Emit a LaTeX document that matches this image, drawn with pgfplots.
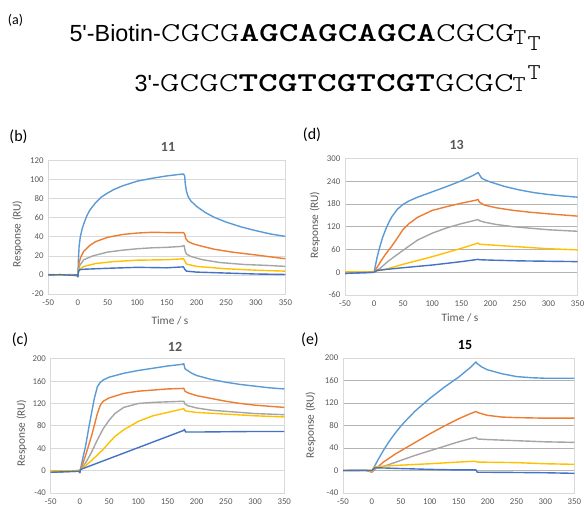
\documentclass[border=0pt]{standalone}
\usepackage{pgfplots}
\pgfplotsset{compat=1.18}
\usepackage{fontspec}
\setmainfont{Carlito}
\newfontfamily\arial{Liberation Sans}
\newfontfamily\seq{lmmonolt10-regular.otf}[BoldFont=lmmonolt10-bold.otf, FakeStretch=1.37]
\newfontfamily\seqT{lmmonolt10-regular.otf}[FakeStretch=1.1]

\definecolor{c1}{HTML}{5B9BD5}
\definecolor{c2}{HTML}{ED7D31}
\definecolor{c3}{HTML}{A5A5A5}
\definecolor{c4}{HTML}{FFC000}
\definecolor{c5}{HTML}{4472C4}
\definecolor{txt}{HTML}{595959}
\definecolor{gridl}{HTML}{D9D9D9}
\definecolor{gridd}{HTML}{B4B4B4}

\pgfplotsset{
  spr/.style={
    scale only axis, anchor=south west,
    xmin=-50, xmax=350, xtick={-50,0,...,350},
    axis line style={gridl, line width=0.5pt},
    tick style={draw=none},
    ymajorgrids, major grid style={gridl, line width=0.6pt},
    ticklabel style={font=\fontsize{6.6}{7}\selectfont, text=txt},
    /pgf/number format/assume math mode=true,
    xticklabel style={yshift=-1pt},
    every axis plot/.append style={line width=1.05pt, line join=round, no markers},
  },
}

\begin{document}
\begin{tikzpicture}
\path[use as bounding box] (0,0) rectangle (438pt,381pt);

% (a) hairpin sequence
\node[font=\fontsize{10.5}{12}\selectfont] at (11.6pt,366pt) {(a)};
\node[anchor=base east, inner sep=0] at (386.25pt,349.5pt)
  {\arial\fontsize{17.5}{20}\selectfont 5'-Biotin-\seq\fontsize{20.5}{24}\selectfont CGCG\textbf{AGCAGCAGCA}CGCG};
\node[anchor=base east, inner sep=0] at (385.5pt,312.4pt)
  {\arial\fontsize{17.5}{20}\selectfont 3'-\seq\fontsize{20.5}{24}\selectfont GCGC\textbf{TCGTCGTCGT}GCGC};
\node[anchor=base west, inner sep=0, font=\seqT\fontsize{17}{20}\selectfont] at (384.75pt,347.25pt) {T};
\node[anchor=base west, inner sep=0, font=\seqT\fontsize{17}{20}\selectfont] at (395.6pt,342.75pt) {T};
\node[anchor=base west, inner sep=0, font=\seqT\fontsize{17}{20}\selectfont] at (384.3pt,312.4pt) {T};
\node[anchor=base west, inner sep=0, font=\seqT\fontsize{17}{20}\selectfont] at (395.6pt,321pt) {T};

% (b) 11
\begin{axis}[spr, at={(36.2pt,160.5pt)}, width=177.9pt, height=100pt,
  ymin=-20, ymax=120, ytick={-20,0,...,120}]
\addplot[c1] coordinates {(-50,0)(-40,-0.5)(-30,0.3)(-20,-0.4)(-10,0.2)(-2,0)(0,-1.5)(1,18)(2,30)(4,40)(7,48)(10,54)(15,62)(20,68)(30,76)(40,82)(50,86)(60,89.5)(75,93.5)(100,98.5)(125,101.5)(150,104)(170,105.5)(178,106)(180,104)(181,96)(183,88)(186,82)(190,78)(200,72)(215,65.5)(230,60.5)(250,55.5)(275,50.5)(300,46.5)(325,43)(350,40.5)};
\addplot[c2] coordinates {(-50,0.5)(-30,0)(-10,0.5)(0,-1)(1,8)(2,13)(5,19)(10,25)(20,31)(30,35)(50,39.5)(75,42.5)(100,44)(125,44.8)(150,44.5)(178,44.5)(180,43)(182,38)(186,35)(195,32.5)(210,30)(230,27)(260,24)(300,21)(325,19)(350,17)};
\addplot[c3] coordinates {(-50,0)(-30,0.3)(-10,-0.2)(0,-1)(1,5)(3,10)(10,16)(25,20)(50,24)(75,26)(100,27.5)(125,28.5)(150,29)(175,30)(179,31)(181,25)(183,22)(190,19.5)(210,16)(240,13)(280,11)(320,10)(350,9)};
\addplot[c4] coordinates {(-50,0)(-30,-0.3)(-10,0.2)(0,-1)(1,3)(3,6)(10,9)(30,12)(60,14)(100,15.5)(150,16)(178,17)(180,15)(183,11.5)(200,9)(250,6.5)(300,5)(350,4)};
\addplot[c5] coordinates {(-50,0)(-30,0.3)(-10,-0.3)(-1,0)(0,-2)(1,4)(3,5.5)(10,6)(50,7)(100,8)(150,7.5)(178,8.5)(180,6)(183,4)(200,3)(250,2)(300,1)(350,0.5)};
\end{axis}

% (d) 13
\begin{axis}[spr, at={(258.75pt,159.75pt)}, width=174.4pt, height=102.4pt,
  ymin=-60, ymax=300, ytick={-60,0,...,300}, major grid style={gridd, line width=0.6pt}]
\addplot[c1] coordinates {(-50,-3)(0,0)(5,38)(10,68)(15,93)(20,113)(25,130)(30,145)(40,166)(50,179)(60,188)(75,198)(100,212)(125,226)(150,241)(170,255)(179,263)(181,258)(185,248)(190,244)(200,238)(225,226)(250,217)(275,210)(300,205)(325,201)(350,198)};
\addplot[c2] coordinates {(-50,-1)(0,0)(10,25)(20,48)(30,68)(40,90)(50,113)(60,128)(75,145)(100,163)(125,173)(150,182)(175,190)(179,192)(181,185)(190,177)(210,170)(240,163)(270,158)(300,154)(325,151)(350,148)};
\addplot[c3] coordinates {(-50,-1)(0,0)(10,10)(25,30)(50,58)(75,85)(100,103)(125,117)(150,128)(179,139)(181,136)(190,132)(210,126)(240,120)(270,116)(300,112)(350,108)};
\addplot[c4] coordinates {(-50,1)(0,1.5)(25,10)(50,21)(75,31)(100,41)(125,52)(150,63)(179,77)(181,74)(190,73)(220,70)(260,66)(300,62)(350,59)};
\addplot[c5] coordinates {(-50,-3)(0,0)(5,5)(50,12)(100,19)(150,28)(179,34)(181,33)(200,32)(250,30)(300,29)(350,28)};
\end{axis}

% (c) 12
\begin{axis}[spr, at={(38pt,11.25pt)}, width=175.2pt, height=100.7pt,
  ymin=-40, ymax=200, ytick={-40,0,...,200}]
\addplot[c1] coordinates {(-50,-3)(-2,-1)(0,-4)(1,2)(5,22)(10,45)(15,75)(20,103)(25,130)(30,150)(35,158)(40,162)(50,167)(75,174)(100,179)(125,183)(150,187)(175,190)(178,191)(180,182)(183,180)(190,175)(200,170)(225,163)(250,158)(275,154)(300,151)(325,148)(350,146)};
\addplot[c2] coordinates {(-50,-1)(0,0)(5,12)(10,28)(15,45)(20,62)(25,82)(30,102)(35,117)(40,124)(50,130)(75,138)(100,142)(125,144)(150,146)(178,147)(180,142)(185,139)(200,134)(225,129)(250,124)(275,120)(300,117)(325,115)(350,113)};
\addplot[c3] coordinates {(-50,-1)(0,0)(10,14)(20,33)(30,55)(40,75)(50,90)(60,102)(75,113)(100,120)(125,122)(150,123)(178,124)(180,119)(185,116)(200,112)(225,108)(250,106)(275,104)(300,102)(350,100)};
\addplot[c4] coordinates {(-50,-1)(0,0)(10,9)(20,18)(30,28)(40,38)(50,50)(60,61)(75,73)(100,88)(125,98)(150,104)(175,110)(178,111)(180,107)(185,106)(200,104)(250,101)(300,98)(350,96)};
\addplot[c5] coordinates {(-50,-3)(-2,-1)(0,-3)(1,2)(178,72)(179,74)(181,69)(200,69)(250,69.5)(300,70)(350,70)};
\end{axis}

% (e) 15
\begin{axis}[spr, at={(257.25pt,11.25pt)}, width=173.5pt, height=101.25pt,
  ymin=-40, ymax=200, ytick={-40,0,...,200}, major grid style={gridd, line width=0.6pt}]
\addplot[c1] coordinates {(-50,0)(-10,0)(0,-1)(10,18)(20,36)(30,52)(40,66)(50,79)(60,90)(75,106)(100,128)(125,148)(150,166)(170,183)(180,193)(182,190)(190,184)(200,179)(225,172)(250,167)(275,165)(300,164)(350,164)};
\addplot[c2] coordinates {(-50,0)(-10,0)(0,-3)(5,2)(20,15)(40,29)(60,41)(80,53)(100,65)(125,79)(150,92)(170,101)(180,105)(183,103)(200,98)(225,95)(250,94)(300,93)(350,93)};
\addplot[c3] coordinates {(-50,0)(-10,0)(0,-1)(5,3)(25,9)(50,18)(75,27)(100,35)(125,43)(150,51)(175,58)(180,59)(183,56)(200,55)(250,53)(300,51)(350,50)};
\addplot[c4] coordinates {(-50,0)(-10,0)(0,-1)(3,6)(25,8)(50,9.5)(100,12)(150,15)(178,16.5)(183,15)(250,14)(300,12)(350,11)};
\addplot[c5] coordinates {(-50,0)(-10,0.5)(0,0)(5,5)(50,3.5)(100,2)(150,1)(180,1)(182,-3)(250,-3.5)(300,-4)(350,-5)};
\end{axis}

% titles, panel letters, axis labels
\node[font=\bfseries\fontsize{10.5}{12}\selectfont, text=txt] at (126pt,270.75pt) {11};
\node[font=\bfseries\fontsize{10.5}{12}\selectfont, text=txt] at (342.5pt,272.25pt) {13};
\node[font=\bfseries\fontsize{10.5}{12}\selectfont, text=txt] at (131.25pt,121pt) {12};
\node[font=\bfseries\fontsize{10.5}{12}\selectfont] at (348.75pt,122.25pt) {15};
\node[font=\fontsize{12}{14}\selectfont] at (13.9pt,278.25pt) {(b)};
\node[font=\fontsize{12}{14}\selectfont] at (234pt,279.75pt) {(d)};
\node[font=\fontsize{12}{14}\selectfont] at (15pt,126pt) {(c)};
\node[font=\fontsize{12}{14}\selectfont] at (232.5pt,126pt) {(e)};
\node[font=\fontsize{8.5}{10}\selectfont, text=txt, rotate=90] at (13pt,205.5pt) {Response (RU)};
\node[font=\fontsize{8.5}{10}\selectfont, text=txt, rotate=90] at (236.25pt,212.25pt) {Response (RU)};
\node[font=\fontsize{8.5}{10}\selectfont, text=txt, rotate=90] at (16.25pt,56.25pt) {Response (RU)};
\node[font=\fontsize{8.5}{10}\selectfont, text=txt, rotate=90] at (233pt,62.25pt) {Response (RU)};
\node[font=\fontsize{8.5}{10}\selectfont, text=txt] at (127.5pt,140.25pt) {Time / s};
\node[font=\fontsize{8.5}{10}\selectfont, text=txt] at (345pt,142.5pt) {Time / s};
\end{tikzpicture}
\end{document}
